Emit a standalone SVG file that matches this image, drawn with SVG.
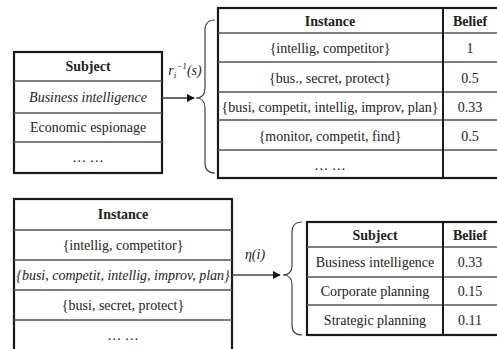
<svg xmlns="http://www.w3.org/2000/svg" width="497" height="349" viewBox="0 0 497 349" font-family="Liberation Serif, Times New Roman, DejaVu Serif, serif">
<defs>
<style>
.t{font-size:14px;fill:#222;text-anchor:middle}
.b{font-weight:bold}
.i{font-style:italic}
.outer{fill:#fff;stroke:#1a1a1a;stroke-width:2.2}
.row{stroke:#555;stroke-width:1.6;fill:none}
.col{stroke:#1a1a1a;stroke-width:2;fill:none}
.brace{fill:none;stroke:#444;stroke-width:1.2}
.conn{stroke:#444;stroke-width:1.6;fill:none}
</style>
<marker id="ah" viewBox="0 0 10 10" refX="9" refY="5" markerWidth="5" markerHeight="5" orient="auto">
<path d="M0,0 L10,5 L0,10 z" fill="#111"/>
</marker>
</defs>
<rect width="497" height="349" fill="#fff"/>

<g id="subject-table">
<rect class="outer" x="14" y="52" width="148" height="121"/>
<line class="row" x1="14" y1="81" x2="162" y2="81"/>
<line class="row" x1="14" y1="113" x2="162" y2="113"/>
<line class="row" x1="14" y1="142" x2="162" y2="142"/>
<text class="t b" x="88" y="71">Subject</text>
<text class="t i" x="88" y="102">Business intelligence</text>
<text class="t" x="88" y="132">Economic espionage</text>
<text class="t" x="88" y="162">… …</text>
</g>

<g id="instance-belief-table">
<rect class="outer" x="218" y="8" width="285" height="170"/>
<line class="row" x1="218" y1="33" x2="503" y2="33"/>
<line class="row" x1="218" y1="62" x2="503" y2="62"/>
<line class="row" x1="218" y1="92" x2="503" y2="92"/>
<line class="row" x1="218" y1="120" x2="503" y2="120"/>
<line class="row" x1="218" y1="150" x2="503" y2="150"/>
<line class="col" x1="443" y1="8" x2="443" y2="178"/>
<text class="t b" x="330" y="26">Instance</text>
<text class="t b" x="470" y="26">Belief</text>
<text class="t" x="330" y="53">{intellig, competitor}</text>
<text class="t" x="470" y="53">1</text>
<text class="t" x="330" y="83">{bus., secret, protect}</text>
<text class="t" x="470" y="83">0.5</text>
<text class="t" x="330" y="112">{busi, competit, intellig, improv, plan}</text>
<text class="t" x="470" y="112">0.33</text>
<text class="t" x="330" y="141">{monitor, competit, find}</text>
<text class="t" x="470" y="141">0.5</text>
<text class="t" x="330" y="170">… …</text>
</g>

<g id="instance-table">
<rect class="outer" x="14" y="199" width="218" height="160"/>
<line class="row" x1="14" y1="230" x2="232" y2="230"/>
<line class="row" x1="14" y1="260" x2="232" y2="260"/>
<line class="row" x1="14" y1="290" x2="232" y2="290"/>
<line class="row" x1="14" y1="320" x2="232" y2="320"/>
<text class="t b" x="123" y="219">Instance</text>
<text class="t" x="123" y="250">{intellig, competitor}</text>
<text class="t i" x="123" y="280">{busi, competit, intellig, improv, plan}</text>
<text class="t" x="123" y="310">{busi, secret, protect}</text>
<text class="t" x="123" y="340">… …</text>
</g>

<g id="subject-belief-table">
<rect class="outer" x="307" y="222" width="196" height="113"/>
<line class="row" x1="307" y1="247" x2="503" y2="247"/>
<line class="row" x1="307" y1="277" x2="503" y2="277"/>
<line class="row" x1="307" y1="305" x2="503" y2="305"/>
<line class="col" x1="443" y1="222" x2="443" y2="335"/>
<text class="t b" x="375" y="240">Subject</text>
<text class="t b" x="470" y="240">Belief</text>
<text class="t" x="375" y="267">Business intelligence</text>
<text class="t" x="470" y="267">0.33</text>
<text class="t" x="375" y="296">Corporate planning</text>
<text class="t" x="470" y="296">0.15</text>
<text class="t" x="375" y="325">Strategic planning</text>
<text class="t" x="470" y="325">0.11</text>
</g>

<g id="connectors">
<line class="conn" x1="162" y1="98" x2="194" y2="98" marker-end="url(#ah)"/>
<path class="brace" d="M215,20 Q205,20 205,30 L205,88 Q205,98 196,98 Q205,98 205,108 L205,163 Q205,173 215,173"/>
<text class="t i" x="185" y="75">r<tspan font-size="9" dy="3">i</tspan><tspan font-size="9" dy="-9">−1</tspan><tspan dy="6">(s)</tspan></text>
<line class="conn" x1="232" y1="275" x2="280" y2="275" marker-end="url(#ah)"/>
<path class="brace" d="M302,222 Q292,222 292,232 L292,265 Q292,275 283,275 Q292,275 292,285 L292,325 Q292,335 302,335"/>
<text class="t i" x="255" y="259">η(i)</text>
</g>
</svg>
